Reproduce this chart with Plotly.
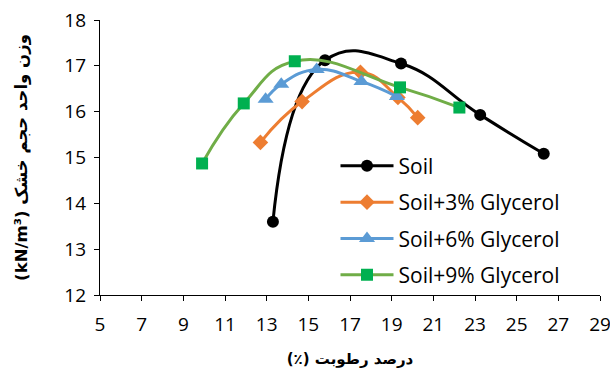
import plotly.graph_objects as go

soil_x = [13.3, 15.8, 19.45, 23.25, 26.3]
soil_y = [13.6, 17.12, 17.05, 15.93, 15.08]
g3_x = [12.7, 14.7, 17.5, 19.3, 20.25]
g3_y = [15.33, 16.22, 16.86, 16.31, 15.87]
g6_x = [12.95, 13.7, 15.4, 17.55, 19.25]
g6_y = [16.27, 16.6, 16.92, 16.66, 16.33]
g9_x = [9.9, 11.9, 14.35, 19.4, 22.25]
g9_y = [14.87, 16.18, 17.1, 16.53, 16.09]

names = ["Soil", "Soil+3% Glycerol", "Soil+6% Glycerol", "Soil+9% Glycerol"]
x_ticks = list(range(5, 30, 2))
y_ticks = list(range(12, 19))

FONT = "'Open Sans', Lato, 'DejaVu Sans', sans-serif"
FA_FONT = "'DejaVu Sans', sans-serif"

series = [
    (soil_x, soil_y, names[0], "#000000", "#000000", "circle", 12),
    (g3_x, g3_y, names[1], "#ED7D31", "#ED7D31", "diamond", 12),
    (g6_x, g6_y, names[2], "#5B9BD5", "#5B9BD5", "triangle-up", 14),
    (g9_x, g9_y, names[3], "#70AD47", "#00B050", "square", 12),
]

fig = go.Figure()
for i, (x, y, n, lc, mc, sym, sz) in enumerate(series):
    fig.add_trace(go.Scatter(
        x=x, y=y, name=n, mode="lines+markers",
        line=dict(color=lc, width=3, shape="spline", smoothing=1.3),
        marker=dict(color=mc, symbol=sym, size=sz, line=dict(width=0)),
        legendgroup=f"g{i}",
    ))

fig.update_layout(
    width=610, height=374,
    margin=dict(l=100, r=10, t=20, b=79),
    paper_bgcolor="white", plot_bgcolor="white",
    font=dict(family=FONT, size=19, color="#000000"),
    showlegend=True,
    legend=dict(
        x=0.471, y=0.543, xanchor="left", yanchor="top",
        bgcolor="rgba(0,0,0,0)", font=dict(size=21, family=FONT),
        tracegroupgap=6, itemwidth=53,
    ),
    xaxis=dict(
        range=[5, 29], tickvals=x_ticks, ticktext=[str(v) for v in x_ticks],
        showgrid=False, zeroline=False, showline=True, linecolor="#000000", linewidth=1.3,
        ticks="outside", ticklen=5, tickcolor="#000000", tickwidth=1.3, automargin=False,
        tickfont=dict(size=19), ticklabelstandoff=7, ticklabeloverflow="allow",
        title=dict(text="<b>(٪) درصد رطوبت</b>", font=dict(family=FA_FONT, size=15), standoff=17),
    ),
    yaxis=dict(
        range=[12, 18], tickvals=y_ticks, ticktext=[str(v) for v in y_ticks],
        showgrid=False, zeroline=False, showline=True, linecolor="#000000", linewidth=1.3,
        ticks="outside", ticklen=5, tickcolor="#000000", tickwidth=1.3, automargin=False,
        tickfont=dict(size=19), ticklabelstandoff=4,
        title=dict(text="<b>(kN/m³) وزن واحد حجم خشک</b>", font=dict(family=FA_FONT, size=16.5), standoff=32),
    ),
)

fig.write_html("out.html", config={"displayModeBar": False},
               post_script="document.body.style.margin='0';document.body.style.overflow='hidden';")
